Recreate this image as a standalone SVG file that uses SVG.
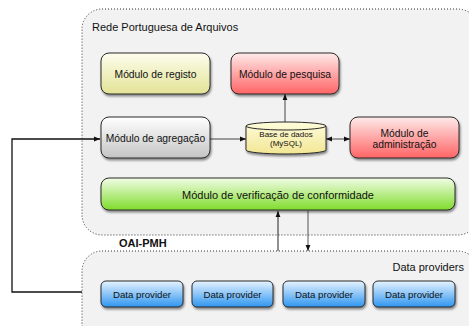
<svg xmlns="http://www.w3.org/2000/svg" width="469" height="326" viewBox="0 0 469 326">
<style>
  text { font-family: "Liberation Sans", Arial, sans-serif; fill: #111; }
  .mod { font-size: 10.3px; text-anchor: middle; }
  .node { stroke: #2a2a2a; stroke-width: 1; filter: url(#sh); }
  .cont { fill: #f2f2f2; stroke: #333; stroke-width: 1; stroke-dasharray: 1 2; }
  .conn { fill: none; stroke: #444; stroke-width: 1; }
  .dp { font-size: 9.7px; text-anchor: middle; }
</style>
<defs>
  <filter id="sh" x="-10%" y="-20%" width="125%" height="160%">
    <feDropShadow dx="1" dy="2" stdDeviation="1.3" flood-color="#000" flood-opacity="0.45"/>
  </filter>
  <linearGradient id="gY" x1="0" y1="0" x2="0" y2="1"><stop offset="0" stop-color="#fdfdee"/><stop offset="1" stop-color="#e3e396"/></linearGradient>
  <linearGradient id="gR" x1="0" y1="0" x2="0" y2="1"><stop offset="0" stop-color="#feeaea"/><stop offset="1" stop-color="#ff6464"/></linearGradient>
  <linearGradient id="gG" x1="0" y1="0" x2="0" y2="1"><stop offset="0" stop-color="#ffffff"/><stop offset="1" stop-color="#c4c4c4"/></linearGradient>
  <linearGradient id="gV" x1="0" y1="0" x2="0" y2="1"><stop offset="0" stop-color="#f2fde6"/><stop offset="1" stop-color="#7fdc2c"/></linearGradient>
  <linearGradient id="gB" x1="0" y1="0" x2="0" y2="1"><stop offset="0" stop-color="#e6f3ff"/><stop offset="1" stop-color="#2f96f0"/></linearGradient>
  <linearGradient id="gC" x1="0" y1="0" x2="0" y2="1"><stop offset="0" stop-color="#fefcdc"/><stop offset="1" stop-color="#f2e694"/></linearGradient>
  <marker id="ah" viewBox="0 0 10 10" refX="10" refY="5" markerWidth="6" markerHeight="6" orient="auto-start-reverse" markerUnits="userSpaceOnUse">
    <path d="M0,1 L10,5 L0,9 z" fill="#111"/>
  </marker>
</defs>
<rect width="469" height="326" fill="#fff"/>

<g id="container-rpa">
  <rect class="cont" x="82" y="9" width="396" height="226" rx="20" ry="20"/>
  <text x="92" y="31" font-size="11px">Rede Portuguesa de Arquivos</text>
</g>
<g id="container-dp">
  <rect class="cont" x="82" y="251" width="396" height="100" rx="20" ry="20"/>
  <text x="464" y="271" font-size="11px" text-anchor="end">Data providers</text>
</g>
<g id="label-oai">
  <text x="119" y="247" font-size="11px" font-weight="bold">OAI-PMH</text>
</g>

<g id="connectors">
  <path class="conn" d="M82,292 H12 V139 H100" stroke="#111" style="stroke:#111;stroke-width:1.3" marker-end="url(#ah)"/>
  <line class="conn" x1="210" y1="139" x2="246" y2="139" marker-end="url(#ah)"/>
  <line class="conn" x1="285" y1="122" x2="285" y2="94" marker-end="url(#ah)"/>
  <line class="conn" x1="326" y1="139" x2="350" y2="139" marker-start="url(#ah)" marker-end="url(#ah)"/>
  <line class="conn" x1="278" y1="251" x2="278" y2="211" marker-end="url(#ah)" style="stroke:#222"/>
  <line class="conn" x1="308" y1="211" x2="308" y2="251" marker-end="url(#ah)" style="stroke:#555"/>
</g>

<g id="n-registo">
  <rect class="node" x="101" y="53" width="109" height="41" rx="8" fill="url(#gY)"/>
  <text class="mod" x="155.5" y="77.5">Módulo de registo</text>
</g>
<g id="n-pesquisa">
  <rect class="node" x="231" y="53" width="108" height="41" rx="8" fill="url(#gR)"/>
  <text class="mod" x="285" y="77.5">Módulo de pesquisa</text>
</g>
<g id="n-agregacao">
  <rect class="node" x="101" y="117" width="109" height="41" rx="8" fill="url(#gG)"/>
  <text class="mod" x="155.5" y="142">Módulo de agregação</text>
</g>
<g id="n-base">
  <path class="node" d="M246,126 A40,4 0 0 1 326,126 V150 A40,4 0 0 1 246,150 Z" fill="url(#gC)"/>
  <path d="M246,126 A40,4 0 0 0 326,126" fill="none" stroke="#2a2a2a" stroke-width="1"/>
  <text x="286" y="137" font-size="8px" text-anchor="middle">Base de dados</text>
  <text x="286" y="146" font-size="8px" text-anchor="middle">(MySQL)</text>
</g>
<g id="n-administracao">
  <rect class="node" x="350" y="117" width="109" height="41" rx="8" fill="url(#gR)"/>
  <text class="mod" x="404.5" y="136.5">Módulo de</text>
  <text class="mod" x="404.5" y="147.5">administração</text>
</g>
<g id="n-verificacao">
  <rect class="node" x="101" y="178" width="354" height="32" rx="8" fill="url(#gV)"/>
  <text class="mod" x="278" y="198.5" style="font-size:11px">Módulo de verificação de conformidade</text>
</g>

<g id="n-dp1">
  <rect class="node" x="101" y="281" width="82" height="26" rx="5" fill="url(#gB)"/>
  <text class="dp" x="142" y="297.5">Data provider</text>
</g>
<g id="n-dp2">
  <rect class="node" x="192" y="281" width="81" height="26" rx="5" fill="url(#gB)"/>
  <text class="dp" x="232.5" y="297.5">Data provider</text>
</g>
<g id="n-dp3">
  <rect class="node" x="283" y="281" width="82" height="26" rx="5" fill="url(#gB)"/>
  <text class="dp" x="324" y="297.5">Data provider</text>
</g>
<g id="n-dp4">
  <rect class="node" x="373" y="281" width="82" height="26" rx="5" fill="url(#gB)"/>
  <text class="dp" x="414" y="297.5">Data provider</text>
</g>
</svg>
